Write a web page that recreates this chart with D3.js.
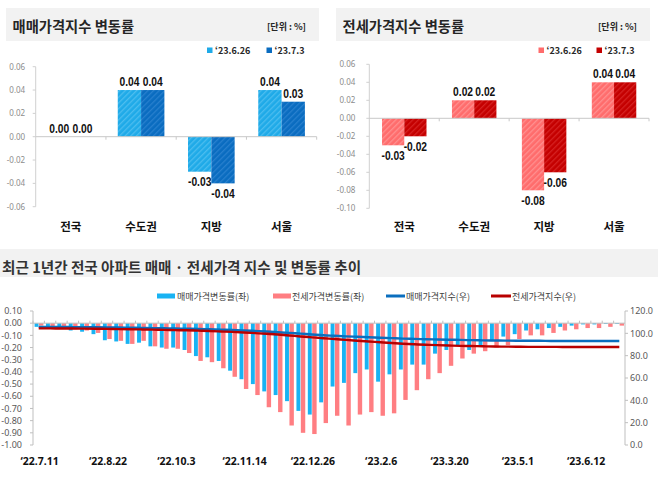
<!DOCTYPE html>
<html><head><meta charset="utf-8">
<script src="https://cdn.jsdelivr.net/npm/d3@7"></script>
<style>body{margin:0;background:#fff}svg{display:block}</style>
</head><body>
<svg id="c" width="658" height="477"></svg>
<script>
// ---------- DATA ----------
const topCats = ['전국', '수도권', '지방', '서울'];
const topSeries = ['‘23.6.26', '‘23.7.3'];
const saleTopPrev = [0.00, 0.04, -0.03, 0.04];
const saleTopCurr = [0.00, 0.04, -0.04, 0.03];
const jeonseTopPrev = [-0.03, 0.02, -0.08, 0.04];
const jeonseTopCurr = [-0.02, 0.02, -0.06, 0.04];
const saleTopTicks = [0.06, 0.04, 0.02, 0.00, -0.02, -0.04, -0.06];
const jeonseTopTicks = [0.06, 0.04, 0.02, 0.00, -0.02, -0.04, -0.06, -0.08, -0.10];

const weeks = ['22.7.11','22.7.18','22.7.25','22.8.1','22.8.8','22.8.15','22.8.22','22.8.29','22.9.5','22.9.12',
  '22.9.19','22.9.26','22.10.3','22.10.10','22.10.17','22.10.24','22.10.31','22.11.7','22.11.14','22.11.21',
  '22.11.28','22.12.5','22.12.12','22.12.19','22.12.26','23.1.2','23.1.9','23.1.16','23.1.23','23.1.30',
  '23.2.6','23.2.13','23.2.20','23.2.27','23.3.6','23.3.13','23.3.20','23.3.27','23.4.3','23.4.10',
  '23.4.17','23.4.24','23.5.1','23.5.8','23.5.15','23.5.22','23.5.29','23.6.5','23.6.12','23.6.19',
  '23.6.26','23.7.3'];
const xTickWeeks = ['22.7.11','22.8.22','22.10.3','22.11.14','22.12.26','23.2.6','23.3.20','23.5.1','23.6.12'];

const saleRate = [-0.03,-0.03,-0.04,-0.06,-0.07,-0.09,-0.14,-0.15,-0.17,-0.16,
  -0.19,-0.20,-0.20,-0.22,-0.27,-0.28,-0.31,-0.39,-0.46,-0.50,
  -0.56,-0.59,-0.64,-0.72,-0.75,-0.65,-0.52,-0.49,-0.41,-0.38,
  -0.48,-0.42,-0.38,-0.34,-0.34,-0.25,-0.22,-0.18,-0.22,-0.18,
  -0.14,-0.11,-0.09,-0.06,-0.05,-0.04,-0.03,-0.02,-0.01,-0.01,
  0.00,0.00];
const jeonseRate = [-0.02,-0.03,-0.03,-0.05,-0.06,-0.08,-0.13,-0.145,-0.17,-0.145,
  -0.19,-0.21,-0.21,-0.245,-0.31,-0.32,-0.37,-0.44,-0.54,-0.59,
  -0.69,-0.73,-0.84,-0.90,-0.91,-0.82,-0.76,-0.84,-0.75,-0.73,
  -0.76,-0.74,-0.63,-0.55,-0.46,-0.41,-0.35,-0.29,-0.25,-0.23,
  -0.20,-0.18,-0.13,-0.10,-0.10,-0.08,-0.06,-0.05,-0.04,-0.04,
  -0.03,-0.02];
const saleIndex = [105.8,105.7,105.7,105.6,105.5,105.4,105.3,105.2,105.0,104.9,
  104.7,104.5,104.3,104.1,103.9,103.6,103.3,103.0,102.6,102.1,
  101.6,101.0,100.4,99.7,99.0,98.3,97.8,97.3,96.9,96.5,
  96.1,95.7,95.3,95.0,94.7,94.5,94.3,94.1,93.9,93.7,
  93.6,93.5,93.4,93.3,93.3,93.2,93.2,93.2,93.2,93.2,
  93.2,93.2];
const jeonseIndex = [104.4,104.4,104.3,104.3,104.2,104.1,104.0,103.8,103.7,103.5,
  103.3,103.1,102.9,102.7,102.4,102.1,101.7,101.3,100.8,100.2,
  99.6,98.9,98.1,97.2,96.4,95.6,94.9,94.1,93.4,92.7,
  92.0,91.3,90.7,90.2,89.8,89.4,89.1,88.8,88.6,88.4,
  88.2,88.1,88.0,87.9,87.9,87.9,87.8,87.8,87.8,87.8,
  87.8,87.8];
const leftTicks = [0.10,0.00,-0.10,-0.20,-0.30,-0.40,-0.50,-0.60,-0.70,-0.80,-0.90,-1.00];
const rightTicks = [120,100,80,60,40,20,0];
const bottomLegend = ['매매가격변동률(좌)', '전세가격변동률(좌)', '매매가격지수(우)', '전세가격지수(우)'];

// ---------- DRAW ----------
const svg = d3.select('#c');
const KR = "'Noto Sans CJK KR','Noto Sans',sans-serif";
const NUM = "'Liberation Sans',Arial,sans-serif";
const defs = svg.append('defs');
function hatch(id, base, stripe) {
  const p = defs.append('pattern').attr('id', id).attr('patternUnits', 'userSpaceOnUse')
    .attr('width', 4).attr('height', 4).attr('patternTransform', 'rotate(45)');
  p.append('rect').attr('width', 4).attr('height', 4).attr('fill', base);
  p.append('rect').attr('width', 1.3).attr('height', 4).attr('fill', stripe);
}
hatch('hb1', '#1FAAE8', '#4CBDEF');
hatch('hb2', '#0A6CC0', '#2880CE');
hatch('hr1', '#FF6C6C', '#FF9090');
hatch('hr2', '#C40000', '#D62222');

function panel(o) {
  const g = svg.append('g');
  g.append('rect').attr('x', o.bx).attr('y', 8).attr('width', o.bw).attr('height', 33).attr('fill', '#F2F2F2');
  g.append('text').attr('x', o.bx + 6.5).attr('y', 31.5).attr('font-family', KR).attr('font-weight', 700)
    .attr('font-size', 14.3).attr('fill', '#262626').text(o.title);
  g.append('text').attr('x', o.bx + o.bw - 13).attr('y', 30).attr('text-anchor', 'end').attr('font-family', KR)
    .attr('font-weight', 700).attr('font-size', 9).attr('fill', '#262626').text('[단위 : %]');
  // legend
  o.legX.forEach((lx, i) => {
    g.append('rect').attr('x', lx).attr('y', 47.5).attr('width', 5.5).attr('height', 5.5).attr('fill', o.colors[i]);
    g.append('text').attr('x', lx + 8).attr('y', 53.5).attr('font-family', KR).attr('font-weight', 700)
      .attr('font-size', 9).attr('fill', '#262626').text(topSeries[i]);
  });
  const y = d3.scaleLinear().domain(o.domain).range(o.yRange);
  const x = d3.scaleBand().domain(topCats).range([o.ax, o.ar]);
  // y axis
  g.append('line').attr('x1', o.ax).attr('x2', o.ax).attr('y1', y(o.domain[1])).attr('y2', y(o.domain[0]))
    .attr('stroke', '#D0D0D0');
  o.ticks.forEach(t => {
    g.append('line').attr('x1', o.ax - 3).attr('x2', o.ax).attr('y1', y(t)).attr('y2', y(t)).attr('stroke', '#D0D0D0');
    g.append('text').attr('x', o.ax - o.lgap).attr('y', y(t) + 3).attr('text-anchor', 'end')
      .attr('font-family', "'Noto Sans',sans-serif").attr('font-size', 8).attr('fill', '#8C8C8C')
      .text(t.toFixed(2));
  });
  const bw = x.bandwidth() * o.bf;
  const series = [o.prev, o.curr];
  series.forEach((vals, si) => {
    vals.forEach((v, ci) => {
      const cx = x(topCats[ci]) + x.bandwidth() / 2;
      const bx = si === 0 ? cx - bw : cx;
      const y0 = y(0), y1 = y(v);
      if (v !== 0) {
        g.append('rect').attr('x', bx).attr('y', Math.min(y0, y1)).attr('width', bw)
          .attr('height', Math.abs(y1 - y0)).attr('fill', `url(#${o.pats[si]})`);
      }
      const ty = v >= 0 ? y1 - 4 : y1 + 14.5;
      g.append('text').attr('transform', `translate(${bx + bw / 2},${ty}) scale(0.76,1)`)
        .attr('text-anchor', 'middle')
        .attr('font-family', NUM).attr('font-weight', 700).attr('font-size', 13.5).attr('fill', '#111')
        .text(v < 0 ? '-' + Math.abs(v).toFixed(2) : v.toFixed(2));
    });
  });
  // zero line
  g.append('line').attr('x1', o.ax).attr('x2', o.ar).attr('y1', y(0)).attr('y2', y(0)).attr('stroke', '#C8C8C8');
  topCats.forEach((c, i) => {
    if (i > 0) g.append('line').attr('x1', x(c)).attr('x2', x(c)).attr('y1', y(0)).attr('y2', y(0) + 3).attr('stroke', '#C8C8C8');
    g.append('text').attr('x', x(c) + x.bandwidth() / 2).attr('y', 231).attr('text-anchor', 'middle')
      .attr('font-family', KR).attr('font-weight', 700).attr('font-size', 11.5).attr('fill', '#111').text(c);
  });
  g.append('line').attr('x1', o.ar).attr('x2', o.ar).attr('y1', y(0)).attr('y2', y(0) + 3).attr('stroke', '#C8C8C8');
}

panel({ bx: 6, bw: 313, title: '매매가격지수 변동률', legX: [207, 266.5], colors: ['#1FAAE8', '#0A6CC0'],
  domain: [-0.06, 0.06], yRange: [206.7, 66.7], ax: 35.7, ar: 316.7, ticks: saleTopTicks, lgap: 10.5,
  bf: 0.332, prev: saleTopPrev, curr: saleTopCurr, pats: ['hb1', 'hb2'] });
panel({ bx: 336, bw: 314, title: '전세가격지수 변동률', legX: [538.5, 596.5], colors: ['#FF6C6C', '#C40000'],
  domain: [-0.10, 0.06], yRange: [208.3, 64.3], ax: 369.3, ar: 649, ticks: jeonseTopTicks, lgap: 14,
  bf: 0.318, prev: jeonseTopPrev, curr: jeonseTopCurr, pats: ['hr1', 'hr2'] });

// ---------- bottom chart ----------
const gb = svg.append('g');
gb.append('rect').attr('x', 0).attr('y', 249).attr('width', 658).attr('height', 28).attr('fill', '#F2F2F2');
gb.append('text').attr('x', 2).attr('y', 272.5).attr('font-family', KR).attr('font-weight', 700).attr('font-size', 14.6)
  .attr('fill', '#333').text('최근 1년간 전국 아파트 매매 · 전세가격 지수 및 변동률 추이');

const PT = 311, PB = 445, PL = 33, PR = 625;
const yL = d3.scaleLinear().domain([-1.0, 0.1]).range([PB, PT]);
const yR = d3.scaleLinear().domain([0, 120]).range([PB, PT]);
const xb = d3.scaleBand().domain(weeks).range([PL, PR]);
const step = xb.bandwidth();

// legend
const legY = 296;
gb.append('rect').attr('x', 157).attr('y', legY - 2.5).attr('width', 18).attr('height', 5).attr('fill', '#19B3F3');
gb.append('text').attr('x', 177).attr('y', legY + 3.5).attr('font-family', KR).attr('font-size', 9).attr('fill', '#404040').text(bottomLegend[0]);
gb.append('rect').attr('x', 273).attr('y', legY - 2.5).attr('width', 18).attr('height', 5).attr('fill', '#FF7E82');
gb.append('text').attr('x', 292).attr('y', legY + 3.5).attr('font-family', KR).attr('font-size', 9).attr('fill', '#404040').text(bottomLegend[1]);
gb.append('line').attr('x1', 386).attr('x2', 405).attr('y1', legY).attr('y2', legY).attr('stroke', '#0A6EBE').attr('stroke-width', 3);
gb.append('text').attr('x', 406).attr('y', legY + 3.5).attr('font-family', KR).attr('font-size', 9).attr('fill', '#404040').text(bottomLegend[2]);
gb.append('line').attr('x1', 491).attr('x2', 511).attr('y1', legY).attr('y2', legY).attr('stroke', '#B80000').attr('stroke-width', 3);
gb.append('text').attr('x', 512).attr('y', legY + 3.5).attr('font-family', KR).attr('font-size', 9).attr('fill', '#404040').text(bottomLegend[3]);

// axes
gb.append('line').attr('x1', PL).attr('x2', PL).attr('y1', PT).attr('y2', PB).attr('stroke', '#BFBFBF');
leftTicks.forEach(t => {
  gb.append('line').attr('x1', PL - 3).attr('x2', PL).attr('y1', yL(t)).attr('y2', yL(t)).attr('stroke', '#BFBFBF');
  gb.append('text').attr('x', 22).attr('y', yL(t) + 3.2).attr('text-anchor', 'end')
    .attr('font-family', "'Noto Sans',sans-serif").attr('font-size', 9).attr('fill', '#595959')
    .text(t < 0 ? '-' + Math.abs(t).toFixed(2) : t.toFixed(2));
});
gb.append('line').attr('x1', PR).attr('x2', PR).attr('y1', PT).attr('y2', PB).attr('stroke', '#BFBFBF');
rightTicks.forEach(t => {
  gb.append('line').attr('x1', PR).attr('x2', PR + 3).attr('y1', yR(t)).attr('y2', yR(t)).attr('stroke', '#BFBFBF');
  gb.append('text').attr('x', 630).attr('y', yR(t) + 3.2)
    .attr('font-family', "'Noto Sans',sans-serif").attr('font-size', 9).attr('fill', '#595959').text(t.toFixed(1));
});

// bars
weeks.forEach((w, i) => {
  const cx = xb(w) + step / 2;
  const v1 = saleRate[i], v2 = jeonseRate[i];
  gb.append('rect').attr('x', cx - 4.1).attr('y', Math.min(yL(0), yL(v1))).attr('width', 3.9)
    .attr('height', Math.max(0.8, Math.abs(yL(v1) - yL(0)))).attr('fill', '#19B3F3');
  gb.append('rect').attr('x', cx + 0.3).attr('y', Math.min(yL(0), yL(v2))).attr('width', 4.4)
    .attr('height', Math.max(0.8, Math.abs(yL(v2) - yL(0)))).attr('fill', '#FF7E82');
});
// zero line with ticks
gb.append('line').attr('x1', PL).attr('x2', PR).attr('y1', yL(0)).attr('y2', yL(0)).attr('stroke', '#BFBFBF');
weeks.forEach(w => {
  gb.append('line').attr('x1', xb(w)).attr('x2', xb(w)).attr('y1', yL(0) - 2.5).attr('y2', yL(0)).attr('stroke', '#BFBFBF');
});

// lines
const line = ys => d3.line().x((d, i) => xb(weeks[i]) + step / 2).y(d => ys(d)).curve(d3.curveMonotoneX);
gb.append('path').datum(saleIndex).attr('d', line(yR)).attr('fill', 'none').attr('stroke', '#0A6EBE').attr('stroke-width', 2.4);
gb.append('path').datum(jeonseIndex).attr('d', line(yR)).attr('fill', 'none').attr('stroke', '#B80000').attr('stroke-width', 2.4);

// x labels
xTickWeeks.forEach(w => {
  gb.append('text').attr('x', xb(w) + step / 2 + 1).attr('y', 465).attr('text-anchor', 'middle')
    .attr('font-family', "'Noto Sans',sans-serif").attr('font-weight', 700).attr('font-size', 10.5).attr('fill', '#111')
    .text('‘' + w);
});
</script>
</body></html>
